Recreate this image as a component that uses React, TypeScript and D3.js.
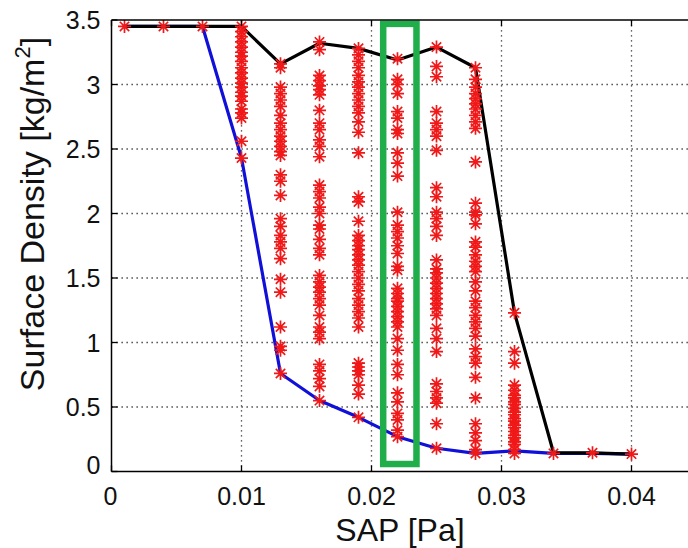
import React from 'react';
import { scaleLinear, line } from 'd3';

// SAP sample positions [Pa]
const sapColumns = [0.001, 0.004, 0.007, 0.01, 0.013, 0.016, 0.019, 0.022, 0.025, 0.028, 0.031, 0.034, 0.037, 0.04];

// envelopes [kg/m2]
const upperDensity = [3.45, 3.45, 3.45, 3.45, 3.16, 3.32, 3.28, 3.19, 3.29, 3.13, 1.23, 0.145, 0.145, 0.135];
const lowerDensity = [3.45, 3.45, 3.45, 2.43, 0.76, 0.55, 0.42, 0.27, 0.18, 0.14, 0.16, 0.14, 0.14, 0.135];

// sampled surface densities per column
const densityAt0001 = [3.45];
const densityAt0004 = [3.45];
const densityAt0007 = [3.45];
const densityAt0010 = [3.45, 3.41, 3.37, 3.33, 3.29, 3.25, 3.22, 3.18, 3.13, 3.09, 3.05, 3.01, 2.98, 2.94, 2.91, 2.87, 2.81, 2.78, 2.74, 2.56, 2.43];
const densityAt0013 = [3.16, 3.13, 2.98, 2.93, 2.88, 2.83, 2.76, 2.7, 2.65, 2.6, 2.56, 2.52, 2.48, 2.45, 2.3, 2.25, 2.14, 1.96, 1.9, 1.83, 1.78, 1.73, 1.65, 1.49, 1.39, 1.12, 0.97, 0.94, 0.76];
const densityAt0016 = [3.33, 3.27, 3.07, 3.03, 2.99, 2.96, 2.92, 2.8, 2.7, 2.65, 2.57, 2.52, 2.44, 2.22, 2.17, 2.12, 2.05, 2.0, 1.91, 1.88, 1.8, 1.73, 1.68, 1.52, 1.47, 1.43, 1.39, 1.34, 1.29, 1.21, 1.12, 1.08, 1.03, 0.83, 0.78, 0.72, 0.66, 0.55];
const densityAt0019 = [3.28, 3.23, 3.18, 3.13, 3.07, 3.02, 2.98, 2.93, 2.88, 2.83, 2.78, 2.71, 2.63, 2.47, 2.13, 2.09, 1.94, 1.83, 1.79, 1.75, 1.72, 1.68, 1.64, 1.6, 1.55, 1.5, 1.45, 1.4, 1.34, 1.29, 1.24, 1.19, 1.12, 0.84, 0.81, 0.78, 0.75, 0.67, 0.6, 0.42];
const densityAt0022 = [3.2, 3.04, 3.0, 2.93, 2.79, 2.74, 2.65, 2.62, 2.47, 2.39, 2.29, 2.01, 1.91, 1.86, 1.81, 1.75, 1.69, 1.59, 1.56, 1.42, 1.38, 1.34, 1.32, 1.28, 1.24, 1.2, 1.16, 1.12, 1.03, 0.94, 0.83, 0.75, 0.61, 0.54, 0.45, 0.4, 0.32, 0.27];
const densityAt0025 = [3.29, 3.14, 3.06, 2.79, 2.7, 2.65, 2.6, 2.49, 2.2, 2.13, 2.01, 1.96, 1.9, 1.83, 1.64, 1.57, 1.54, 1.5, 1.46, 1.42, 1.38, 1.34, 1.3, 1.26, 1.21, 1.11, 1.03, 0.93, 0.68, 0.62, 0.57, 0.53, 0.37, 0.18];
const densityAt0028 = [3.13, 3.04, 2.98, 2.93, 2.89, 2.85, 2.81, 2.76, 2.71, 2.66, 2.4, 2.08, 2.01, 1.99, 1.92, 1.78, 1.74, 1.68, 1.63, 1.59, 1.55, 1.47, 1.4, 1.32, 1.27, 1.21, 1.16, 1.11, 1.05, 0.95, 0.89, 0.84, 0.73, 0.57, 0.37, 0.3, 0.24, 0.17, 0.14];
const densityAt0031 = [1.23, 0.93, 0.84, 0.67, 0.63, 0.59, 0.57, 0.54, 0.52, 0.49, 0.46, 0.44, 0.41, 0.39, 0.36, 0.34, 0.31, 0.28, 0.26, 0.23, 0.21, 0.17, 0.14];
const densityAt0034 = [0.14];
const densityAt0037 = [0.145];
const densityAt0040 = [0.135];

const starColumns = [densityAt0001, densityAt0004, densityAt0007, densityAt0010, densityAt0013, densityAt0016, densityAt0019,
  densityAt0022, densityAt0025, densityAt0028, densityAt0031, densityAt0034, densityAt0037, densityAt0040];

const xTicks = [0, 0.01, 0.02, 0.03, 0.04];
const xTickLabels = ['0', '0.01', '0.02', '0.03', '0.04'];
const yTicks = [0, 0.5, 1, 1.5, 2, 2.5, 3, 3.5];
const yTickLabels = ['0', '0.5', '1', '1.5', '2', '2.5', '3', '3.5'];

// highlighted column box [sap range], [density range]
const highlightSap = [0.0209, 0.02346];
const highlightDensity = [0.058, 3.47];

const W = 688;
const H = 548;
const font = '"Liberation Sans", Arial, sans-serif';

const starPath = (r: number) => {
  const d = r * 0.72;
  return `M${-r},0H${r}M0,${-r}V${r}M${-d},${-d}L${d},${d}M${-d},${d}L${d},${-d}`;
};

export default function App() {
  const x = scaleLinear().domain([0, 0.045]).range([111.5, 696.5]);
  const y = scaleLinear().domain([0, 3.5]).range([471.5, 20]);

  const [x0, x1] = x.range();
  const [y0, y1] = y.range();

  const pathOf = (vals: number[]) =>
    line<number>()
      .x((_, i) => x(sapColumns[i]))
      .y(d => y(d))(vals) || '';

  const stars: { sap: number; dens: number }[] = [];
  starColumns.forEach((col, i) => col.forEach(v => stars.push({ sap: sapColumns[i], dens: v })));

  return (
    <svg width={W} height={H} style={{ position: 'fixed', left: 0, top: 0, background: '#fff' }} fontFamily={font}>
      <rect x={0} y={0} width={W} height={H} fill="#fff" />

      {/* grid */}
      {xTicks.filter(t => t > 0).map(t => (
        <line key={'gx' + t} x1={x(t)} x2={x(t)} y1={y0} y2={y1} stroke="#333" strokeWidth={1.3} strokeDasharray="1.3,3.7" />
      ))}
      {yTicks.filter(t => t > 0 && t < 3.5).map(t => (
        <line key={'gy' + t} x1={x0} x2={x1} y1={y(t)} y2={y(t)} stroke="#333" strokeWidth={1.3} strokeDasharray="1.3,3.7" />
      ))}

      {/* envelopes */}
      <path d={pathOf(lowerDensity)} fill="none" stroke="#1010d8" strokeWidth={3.2} strokeLinejoin="round" />
      <path d={pathOf(upperDensity)} fill="none" stroke="#000" strokeWidth={3.2} strokeLinejoin="round" />

      {/* samples */}
      <g stroke="#f01818" strokeWidth={1.7} fill="none">
        {stars.map((s, i) => (
          <path key={i} transform={`translate(${x(s.sap)},${y(s.dens)})`} d={starPath(6.5)} />
        ))}
      </g>

      {/* highlight box */}
      <rect
        x={x(highlightSap[0])}
        y={y(highlightDensity[1])}
        width={x(highlightSap[1]) - x(highlightSap[0])}
        height={y(highlightDensity[0]) - y(highlightDensity[1])}
        fill="none"
        stroke="#1fae4a"
        strokeWidth={6.5}
      />

      {/* axes box */}
      <line x1={x0} x2={x1} y1={y0} y2={y0} stroke="#000" strokeWidth={1.5} />
      <line x1={x0} x2={x1} y1={y1} y2={y1} stroke="#000" strokeWidth={1.5} />
      <line x1={x0} x2={x0} y1={y0} y2={y1} stroke="#000" strokeWidth={1.5} />
      <line x1={x1} x2={x1} y1={y0} y2={y1} stroke="#000" strokeWidth={1.5} />

      {/* ticks */}
      {xTicks.map(t => (
        <g key={'tx' + t}>
          <line x1={x(t)} x2={x(t)} y1={y0} y2={y0 - 6} stroke="#000" strokeWidth={1.3} />
          <line x1={x(t)} x2={x(t)} y1={y1} y2={y1 + 6} stroke="#000" strokeWidth={1.3} />
        </g>
      ))}
      {yTicks.map(t => (
        <line key={'ty' + t} x1={x0} x2={x0 + 6} y1={y(t)} y2={y(t)} stroke="#000" strokeWidth={1.3} />
      ))}

      {/* tick labels */}
      {xTicks.map((t, i) => (
        <text key={'lx' + t} x={x(t) + (i === 0 ? -1 : 0)} y={y0 + 33} textAnchor="middle" fontSize={25} fill="#111">
          {xTickLabels[i]}
        </text>
      ))}
      {yTicks.map((t, i) => (
        <text key={'ly' + t} x={x0 - 11} y={y(t) + 9 - (i === 0 ? 7 : 0)} textAnchor="end" fontSize={25} fill="#111">
          {yTickLabels[i]}
        </text>
      ))}

      {/* axis titles */}
      <text x={400} y={541} textAnchor="middle" fontSize={32} fill="#111">SAP [Pa]</text>
      <text transform="translate(44,214) rotate(-90)" textAnchor="middle" fontSize={34} fill="#111">
        Surface Density [kg/m<tspan fontSize={22} dy={-14}>2</tspan><tspan dy={14}>]</tspan>
      </text>
    </svg>
  );
}
